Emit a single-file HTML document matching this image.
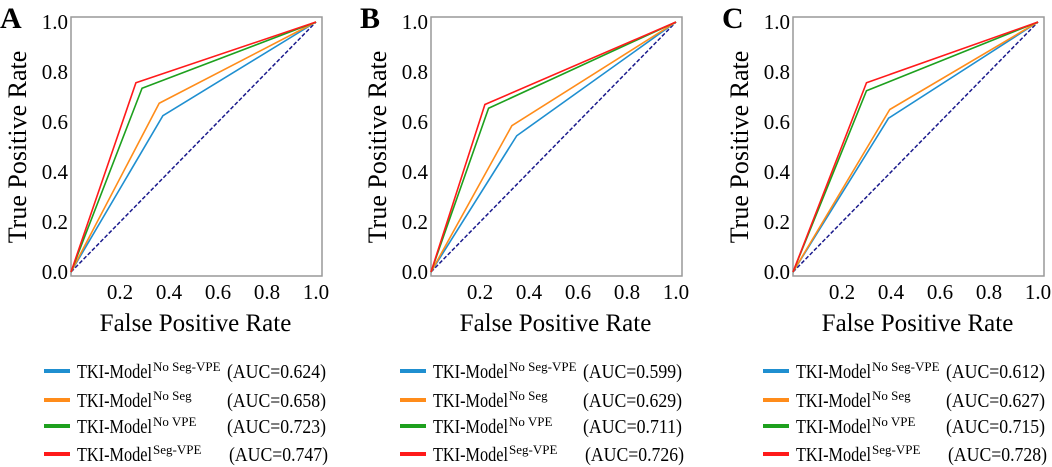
<!DOCTYPE html>
<html><head><meta charset="utf-8"><style>
body{margin:0;background:#fff;}
svg{display:block;font-family:"Liberation Serif",serif;}
</style></head><body>
<svg id="chart" width="1052" height="467" viewBox="0 0 1052 467"></svg>
<script>
const panelLabels = ["A","B","C"];
const seriesNames = ["No Seg-VPE","No Seg","No VPE","Seg-VPE"];
const seriesColors = ["#1f8fd0","#ff8c1a","#1ea01e","#ff1a1a"];
const fprA = [0.375,0.36,0.29,0.265];
const tprA = [0.625,0.675,0.735,0.757];
const fprB = [0.35,0.33,0.235,0.22];
const tprB = [0.545,0.585,0.655,0.67];
const fprC = [0.39,0.395,0.30,0.30];
const tprC = [0.615,0.65,0.725,0.757];
const aucA = ["0.624","0.658","0.723","0.747"];
const aucB = ["0.599","0.629","0.711","0.726"];
const aucC = ["0.612","0.627","0.715","0.728"];
const xTicks = [0.2,0.4,0.6,0.8,1.0];
const yTicks = [0.0,0.2,0.4,0.6,0.8,1.0];

const fprs=[fprA,fprB,fprC], tprs=[tprA,tprB,tprC], aucs=[aucA,aucB,aucC];
const origins=[71,431,793], legendX=[44,400,763];
const W=245, Y0=272, Y1=22;
const svg=document.getElementById('chart');
const NS='http://www.w3.org/2000/svg';
function mk(tag,attrs,parent){const e=document.createElementNS(NS,tag);for(const k in attrs)e.setAttribute(k,attrs[k]);(parent||svg).appendChild(e);return e;}

for(let p=0;p<3;p++){
  const ox=origins[p];
  const sx=v=>ox+v*W, sy=v=>Y0-v*(Y0-Y1);
  const g=mk('g',{});
  
  
  const lab=mk('text',{x:ox-71,y:28,'font-size':30,'font-weight':'bold'},g);lab.textContent=panelLabels[p];
  
  
  const box=mk('rect',{x:ox,y:17,width:W+6,height:Y0-17+4,fill:'none',stroke:'#999','stroke-width':1.5},g);
  
  
  yTicks.forEach(t=>{const e=mk('text',{x:ox-3,y:sy(t)+7,'font-size':21,'text-anchor':'end'},g);e.textContent=t.toFixed(1);
    
    });
  xTicks.forEach(t=>{const e=mk('text',{x:sx(t),y:299,'font-size':21,'text-anchor':'middle'},g);e.textContent=t.toFixed(1);
    
    });
  const yl=mk('text',{transform:`translate(${ox-45},${(Y0+Y1)/2}) rotate(-90)`,'font-size':26,'text-anchor':'middle'},g);yl.textContent='True Positive Rate';
  
  
  const xl=mk('text',{x:ox+W/2+2,y:331,'font-size':25,'text-anchor':'middle'},g);xl.textContent='False Positive Rate';
  
  
  const d=mk('line',{x1:sx(0),y1:sy(0),x2:sx(1),y2:sy(1),stroke:'#1a1a8c','stroke-width':1.5,'stroke-dasharray':'4,2'},g);
  
  
  for(let s=0;s<4;s++){
    const pts=[[0,0],[fprs[p][s],tprs[p][s]],[1,1]].map(q=>sx(q[0])+','+sy(q[1])).join(' ');
    const l=mk('polyline',{points:pts,fill:'none',stroke:seriesColors[s],'stroke-width':1.6},g);
    
    
  }
  const rows=[371,400,426,454];
  for(let s=0;s<4;s++){
    const lx=legendX[p], ry=rows[s];
    const sw=mk('line',{x1:lx,y1:ry,x2:lx+26,y2:ry,stroke:seriesColors[s],'stroke-width':4},g);
    
    
    const t=mk('text',{x:lx+33,y:ry+7,'font-size':20,textLength:75,lengthAdjust:'spacingAndGlyphs'},g);
    
    
    t.textContent='TKI-Model';
    const sup=mk('text',{x:lx+109,y:ry,'font-size':13},g);sup.textContent=seriesNames[s];
    
    
    const a=mk('text',{x:lx+(s==3?185:183),y:ry+7,'font-size':20,textLength:99,lengthAdjust:'spacingAndGlyphs'},g);a.textContent='(AUC='+aucs[p][s]+')';
    
    
  }
}
</script>
</body></html>
